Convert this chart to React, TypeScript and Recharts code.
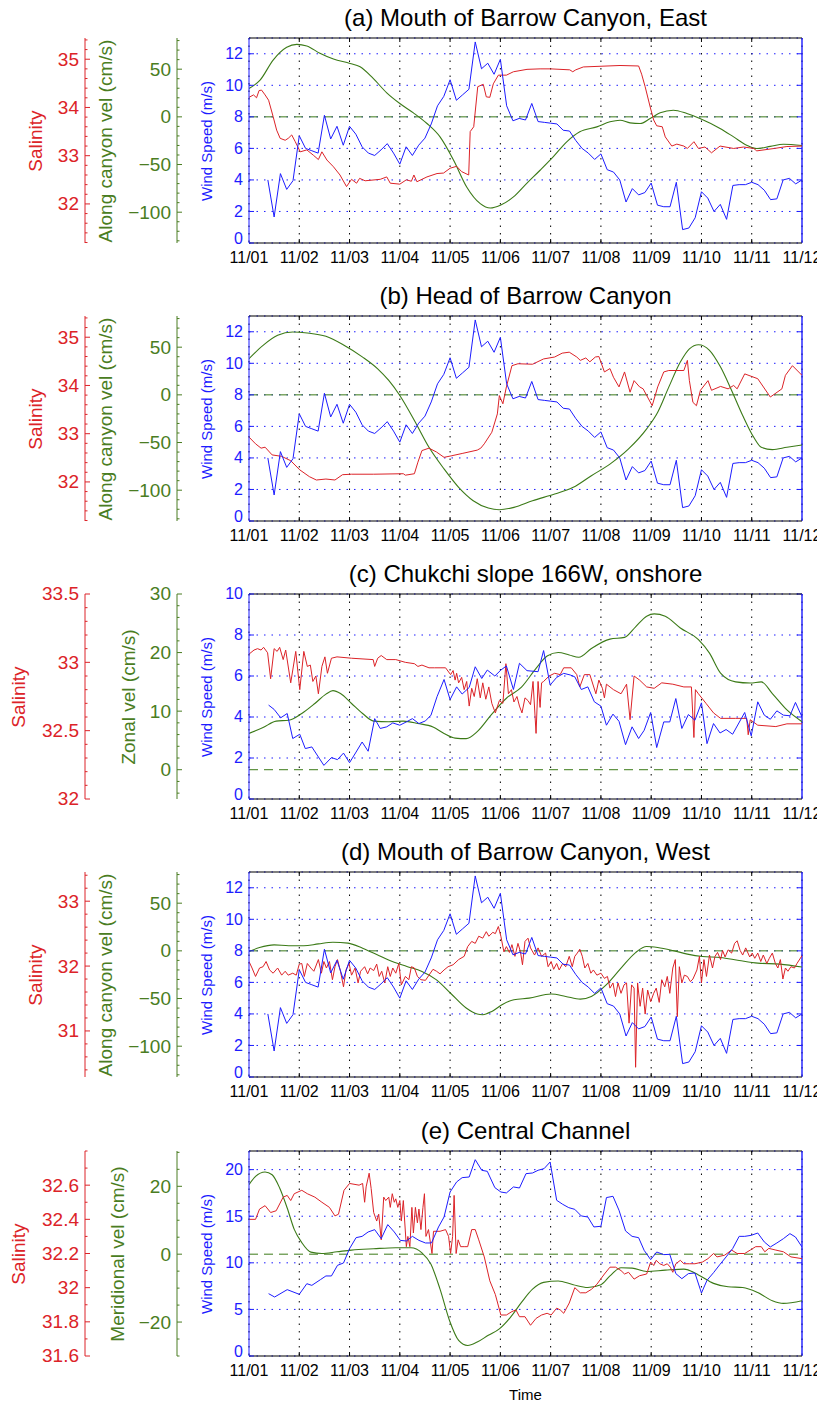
import React from 'react';
import { ComposedChart, Line, XAxis, YAxis, CartesianGrid, ReferenceLine } from 'recharts';

const RED = '#dc2328';
const GREEN = '#3b7a17';
const GREEN_TXT = '#4a7d22';
const BLUE = '#1c1cff';
const FONT = '"Liberation Sans", Arial, Helvetica, sans-serif';

const DATE_TICKS = [1, 2, 3, 4, 5, 6, 7, 8, 9, 10, 11, 12];

// ---- wind speed shared by panels a, b, d (m/s) ----
const WIND_ABD = [[1.375,4.0],[1.5,1.65],[1.625,4.4],[1.75,3.4],[1.875,3.95],[2.0,6.8],[2.125,6.0],[2.25,5.85],[2.375,5.7],[2.5,8.1],[2.625,6.6],[2.75,7.4],[2.875,6.2],[3.0,7.4],[3.125,6.9],[3.25,6.1],[3.375,5.7],[3.5,5.55],[3.625,5.9],[3.75,6.3],[3.875,5.7],[4.0,5.0],[4.125,6.1],[4.25,5.55],[4.375,6.2],[4.5,6.65],[4.625,7.55],[4.75,8.7],[4.875,9.3],[5.0,10.35],[5.125,9.05],[5.25,9.4],[5.375,9.75],[5.5,12.75],[5.625,11.05],[5.75,11.4],[5.875,10.7],[6.0,11.65],[6.125,8.7],[6.25,7.75],[6.375,7.9],[6.5,7.8],[6.625,8.85],[6.75,7.7],[6.875,7.65],[7.0,7.6],[7.125,7.55],[7.25,7.15],[7.375,7.1],[7.5,6.5],[7.625,6.0],[7.75,5.7],[7.875,5.3],[8.0,5.65],[8.125,4.65],[8.25,4.5],[8.375,4.0],[8.5,2.6],[8.625,3.45],[8.75,3.05],[8.875,3.2],[9.0,3.8],[9.125,2.4],[9.25,2.3],[9.375,2.3],[9.5,3.85],[9.625,0.85],[9.75,0.95],[9.875,1.6],[10.0,3.25],[10.125,2.85],[10.25,2.0],[10.375,2.45],[10.5,1.5],[10.625,3.65],[10.75,3.7],[10.875,3.7],[11.0,3.85],[11.125,3.7],[11.25,3.35],[11.375,2.75],[11.5,2.8],[11.625,4.0],[11.75,4.1],[11.875,3.75],[12.0,4.0]];

// ---- (a) Mouth of Barrow Canyon, East ----
const SAL_A = [[1.0,34.21],[1.09,34.26],[1.15,34.2],[1.2,34.35],[1.25,34.36],[1.32,34.26],[1.39,34.15],[1.48,33.81],[1.55,33.53],[1.62,33.36],[1.72,33.32],[1.78,33.36],[1.85,33.43],[1.92,33.29],[2.02,33.08],[2.15,33.12],[2.28,33.01],[2.38,32.92],[2.45,33.08],[2.55,32.91],[2.68,32.77],[2.81,32.6],[2.94,32.36],[3.04,32.51],[3.14,32.43],[3.2,32.53],[3.31,32.48],[3.61,32.51],[3.74,32.56],[3.81,32.43],[4.0,32.41],[4.13,32.5],[4.23,32.47],[4.28,32.6],[4.34,32.46],[4.54,32.56],[4.74,32.63],[4.87,32.64],[5.0,32.74],[5.13,32.78],[5.23,32.67],[5.37,32.6],[5.4,33.5],[5.47,33.6],[5.55,34.43],[5.66,34.48],[5.72,34.22],[5.79,34.21],[5.86,34.49],[5.96,34.67],[6.12,34.67],[6.26,34.74],[6.53,34.79],[6.79,34.8],[7.0,34.8],[7.38,34.78],[7.44,34.74],[7.5,34.78],[7.65,34.84],[8.38,34.87],[8.75,34.86],[8.81,34.69],[8.88,34.43],[8.98,34.01],[9.05,33.74],[9.11,33.62],[9.22,33.6],[9.28,33.39],[9.41,33.2],[9.51,33.24],[9.65,33.2],[9.72,33.15],[9.85,33.29],[9.94,33.15],[10.07,33.18],[10.2,33.06],[10.37,33.2],[10.64,33.15],[10.84,33.18],[11.04,33.15],[11.1,33.1],[11.45,33.15],[11.7,33.19],[12.0,33.2]];
const VEL_A = [[1.0,29.8],[1.22,38.5],[1.48,59.5],[1.75,72.9],[1.95,76],[2.15,74.4],[2.41,66.6],[2.68,60.6],[3.01,56],[3.21,52.5],[3.47,40.3],[3.74,25.2],[4.0,14],[4.27,4.2],[4.54,-7],[4.8,-21],[5.07,-45.5],[5.33,-73.5],[5.6,-91],[5.8,-95.6],[6.0,-92.7],[6.26,-84],[6.52,-70],[6.79,-56],[7.05,-42],[7.32,-26.2],[7.58,-15.7],[7.92,-10.5],[8.18,-5.2],[8.38,-3.5],[8.58,-6.3],[8.78,-7],[8.98,-1.7],[9.18,4.2],[9.44,7],[9.71,3.5],[9.97,-1.7],[10.37,-12.2],[10.64,-21],[10.9,-29.7],[11.1,-33.2],[11.37,-31],[11.63,-28.7],[12.0,-30]];

// ---- (b) Head of Barrow Canyon ----
const SAL_B = [[1.0,32.93],[1.13,32.79],[1.24,32.7],[1.32,32.72],[1.46,32.56],[1.65,32.53],[1.83,32.44],[2.01,32.25],[2.2,32.11],[2.34,32.04],[2.53,32.06],[2.71,32.04],[2.86,32.15],[3.04,32.16],[3.48,32.16],[4.07,32.17],[4.11,32.14],[4.29,32.17],[4.36,32.41],[4.44,32.65],[4.58,32.7],[4.73,32.62],[4.88,32.51],[5.02,32.54],[5.24,32.59],[5.54,32.66],[5.61,32.7],[5.68,32.79],[5.83,33.03],[5.94,33.41],[5.98,33.79],[6.05,33.62],[6.12,33.97],[6.23,34.41],[6.35,34.45],[6.64,34.44],[6.86,34.55],[7.08,34.59],[7.23,34.67],[7.37,34.69],[7.52,34.59],[7.59,34.52],[7.7,34.57],[7.78,34.49],[7.89,34.59],[7.96,34.6],[8.07,34.28],[8.18,34.35],[8.25,34.17],[8.36,33.97],[8.47,34.28],[8.58,33.86],[8.66,34.1],[8.77,33.97],[8.84,33.93],[9.02,33.58],[9.13,33.97],[9.25,34.28],[9.35,34.31],[9.65,34.31],[9.72,34.52],[9.76,34.1],[9.83,33.65],[9.9,33.58],[9.98,33.9],[10.13,34.1],[10.2,33.9],[10.38,33.98],[10.53,33.93],[10.64,34.0],[10.71,33.93],[10.86,34.24],[11.12,34.14],[11.37,33.76],[11.6,33.93],[11.67,34.21],[11.81,34.41],[12.0,34.21]];
const VEL_B = [[1.0,37.9],[1.28,51.9],[1.57,62.4],[1.87,65.9],[2.16,64.9],[2.53,61.4],[2.89,52],[3.26,39.6],[3.56,27.3],[3.78,15.1],[4.0,-0.7],[4.29,-26.9],[4.58,-55],[4.88,-77.7],[5.17,-97],[5.46,-111],[5.76,-118.7],[5.98,-120.5],[6.27,-118],[6.64,-111],[7.08,-104],[7.45,-97],[7.81,-84.8],[8.18,-72.6],[8.55,-56.7],[8.91,-35.7],[9.13,-18.2],[9.35,8.1],[9.58,34.4],[9.76,48.3],[9.94,52.6],[10.16,46.7],[10.38,29.1],[10.6,4.6],[10.82,-21.6],[11.04,-44.5],[11.19,-55],[11.41,-57.4],[11.7,-55],[12.0,-52.6]];

// ---- (c) Chukchi slope 166W, onshore ----
const WIND_C = [[1.39,4.58],[1.5,4.37],[1.63,3.96],[1.76,4.17],[1.87,2.95],[2.01,3.16],[2.12,2.46],[2.25,2.54],[2.38,2.05],[2.49,1.64],[2.64,2.02],[2.76,1.92],[2.88,2.24],[3.0,1.77],[3.13,2.29],[3.25,2.78],[3.37,2.33],[3.5,3.92],[3.61,3.44],[3.74,3.52],[3.86,3.71],[4.0,3.6],[4.13,3.76],[4.25,3.92],[4.38,3.68],[4.51,3.81],[4.62,4.09],[4.74,4.99],[4.88,5.83],[5.0,4.85],[5.13,5.47],[5.24,5.12],[5.38,5.44],[5.5,6.45],[5.63,5.88],[5.74,6.29],[5.89,6.0],[6.01,6.29],[6.12,6.49],[6.26,5.34],[6.38,6.62],[6.53,6.26],[6.75,6.21],[6.86,7.24],[6.99,5.56],[7.12,5.93],[7.26,6.13],[7.39,6.05],[7.48,5.96],[7.61,5.34],[7.74,5.47],[7.87,4.74],[8.0,4.53],[8.11,3.6],[8.24,4.14],[8.36,3.79],[8.49,2.65],[8.62,3.52],[8.75,2.95],[8.86,3.35],[8.99,4.22],[9.11,2.51],[9.25,3.76],[9.37,3.76],[9.49,4.9],[9.61,3.44],[9.74,4.12],[9.87,3.84],[10.0,4.69],[10.11,2.7],[10.24,3.68],[10.37,3.22],[10.49,3.39],[10.62,3.16],[10.86,4.22],[10.99,3.08],[11.12,4.74],[11.25,4.09],[11.37,3.89],[11.5,4.3],[11.63,4.09],[11.76,4.06],[11.87,4.71],[12.0,4.0]];
const SAL_C = [[1.0,33.06],[1.1,33.09],[1.17,33.1],[1.24,33.09],[1.29,33.11],[1.37,33.07],[1.43,32.88],[1.5,33.1],[1.56,33.08],[1.61,33.11],[1.68,33.02],[1.73,33.09],[1.83,32.85],[1.93,33.08],[2.01,32.8],[2.09,33.08],[2.16,32.97],[2.22,32.98],[2.27,32.86],[2.33,32.9],[2.38,32.77],[2.45,32.97],[2.51,33.04],[2.56,32.92],[2.64,33.03],[2.75,33.04],[3.04,33.03],[3.47,33.02],[3.5,32.97],[3.56,33.03],[3.63,33.05],[3.74,33.02],[3.92,33.02],[4.11,33.0],[4.29,32.99],[4.36,32.97],[4.44,32.98],[4.58,32.96],[4.69,32.96],[4.8,32.96],[4.91,32.96],[5.01,32.91],[5.06,32.94],[5.1,32.87],[5.13,32.92],[5.17,32.85],[5.23,32.89],[5.28,32.8],[5.33,32.86],[5.38,32.68],[5.43,32.81],[5.48,32.75],[5.54,32.88],[5.6,32.74],[5.65,32.85],[5.71,32.73],[5.77,32.82],[5.83,32.7],[5.9,32.63],[5.98,32.72],[6.05,32.7],[6.11,32.99],[6.16,32.77],[6.22,32.8],[6.27,32.71],[6.33,32.75],[6.38,32.68],[6.43,32.63],[6.49,32.74],[6.55,32.72],[6.6,32.69],[6.65,32.86],[6.71,32.48],[6.75,32.86],[6.79,32.67],[6.82,32.85],[6.86,32.86],[6.97,32.9],[7.08,32.92],[7.19,32.91],[7.26,32.96],[7.41,32.96],[7.52,32.91],[7.58,32.82],[7.67,32.91],[7.78,32.91],[7.9,32.77],[7.96,32.87],[8.03,32.81],[8.07,32.74],[8.11,32.84],[8.25,32.8],[8.4,32.77],[8.51,32.84],[8.58,32.58],[8.66,32.9],[8.77,32.87],[8.91,32.82],[9.06,32.81],[9.21,32.85],[9.43,32.84],[9.65,32.82],[9.8,32.82],[9.85,32.45],[9.88,32.8],[9.94,32.77],[10.09,32.7],[10.24,32.63],[10.38,32.59],[10.68,32.59],[10.9,32.59],[10.93,32.47],[10.97,32.58],[11.12,32.54],[11.48,32.53],[11.7,32.55],[12.0,32.55]];
const VEL_C = [[1.0,6.2],[1.28,7.2],[1.54,8.3],[1.79,8.45],[2.05,9.6],[2.31,11.3],[2.53,12.9],[2.67,13.5],[2.82,13.0],[3.04,11.3],[3.26,9.6],[3.48,8.3],[3.78,8.2],[4.07,8.3],[4.36,7.9],[4.66,7.3],[4.88,6.2],[5.1,5.4],[5.32,5.3],[5.54,6.5],[5.83,9.5],[6.12,12.2],[6.42,14.1],[6.71,17.3],[6.93,19.4],[7.15,20.0],[7.37,19.6],[7.56,19.2],[7.81,20.7],[8.18,22.3],[8.47,22.6],[8.69,24.4],[8.91,26.2],[9.06,26.6],[9.28,26.2],[9.58,24.2],[9.94,22.2],[10.16,19.9],[10.38,16.5],[10.68,15.0],[10.97,14.8],[11.19,15.0],[11.41,13.0],[11.7,10.2],[12.0,8.2]];

// ---- (d) Mouth of Barrow Canyon, West ----
const SAL_D = [[1.0,32.07],[1.06,31.97],[1.13,31.84],[1.21,31.97],[1.28,31.99],[1.34,32.07],[1.41,31.94],[1.48,31.89],[1.57,31.97],[1.65,31.86],[1.72,31.92],[1.78,31.86],[1.87,31.89],[1.94,31.86],[2.0,32.03],[2.05,32.04],[2.1,31.84],[2.16,32.04],[2.23,31.97],[2.29,31.92],[2.38,32.1],[2.44,31.89],[2.49,32.07],[2.54,31.97],[2.6,32.07],[2.66,31.79],[2.71,31.99],[2.76,32.1],[2.82,31.92],[2.88,31.68],[2.93,31.94],[2.99,32.04],[3.04,31.86],[3.11,31.97],[3.17,31.74],[3.22,31.92],[3.3,31.99],[3.36,31.88],[3.41,31.97],[3.48,31.93],[3.54,32.03],[3.59,31.84],[3.64,31.92],[3.7,31.74],[3.76,31.99],[3.81,31.84],[3.86,31.97],[3.92,31.89],[3.98,32.04],[4.03,31.71],[4.11,31.84],[4.18,31.79],[4.23,31.99],[4.29,31.97],[4.35,31.84],[4.42,31.79],[4.51,31.78],[4.58,31.86],[4.66,31.95],[4.73,31.92],[4.8,31.88],[4.88,31.94],[4.96,31.99],[5.06,32.02],[5.17,32.1],[5.28,32.15],[5.35,32.3],[5.43,32.38],[5.5,32.35],[5.57,32.46],[5.65,32.43],[5.72,32.53],[5.77,32.46],[5.85,32.52],[5.9,32.5],[5.96,32.61],[6.01,32.46],[6.07,32.22],[6.12,32.3],[6.18,32.21],[6.23,32.33],[6.29,32.15],[6.35,32.35],[6.4,32.22],[6.44,32.02],[6.49,32.38],[6.55,32.43],[6.6,32.28],[6.68,32.17],[6.75,32.28],[6.82,32.15],[6.9,32.2],[6.95,31.99],[7.01,32.07],[7.06,31.95],[7.12,32.04],[7.17,31.94],[7.24,32.04],[7.3,31.99],[7.37,32.15],[7.43,31.99],[7.48,32.15],[7.53,32.2],[7.58,32.26],[7.63,32.15],[7.68,31.97],[7.74,32.04],[7.8,31.89],[7.85,31.94],[7.92,31.86],[8.0,31.89],[8.07,31.81],[8.13,31.84],[8.18,31.66],[8.24,31.74],[8.29,31.53],[8.34,31.74],[8.4,31.58],[8.46,31.71],[8.51,31.74],[8.56,31.12],[8.61,31.71],[8.66,31.66],[8.69,30.44],[8.73,31.74],[8.78,31.38],[8.83,31.66],[8.88,31.26],[8.93,31.63],[8.99,31.45],[9.05,31.58],[9.1,31.66],[9.16,31.44],[9.21,31.79],[9.27,31.68],[9.32,31.84],[9.37,31.58],[9.43,31.97],[9.48,32.1],[9.52,31.22],[9.56,31.99],[9.61,31.74],[9.66,31.86],[9.72,31.84],[9.78,31.76],[9.83,31.8],[9.91,31.94],[9.96,32.15],[10.0,31.74],[10.05,32.1],[10.1,31.84],[10.16,32.17],[10.22,31.97],[10.27,32.15],[10.32,32.21],[10.38,32.1],[10.42,32.24],[10.47,32.14],[10.53,32.25],[10.6,32.2],[10.66,32.35],[10.71,32.39],[10.77,32.24],[10.82,32.17],[10.88,32.28],[10.96,32.14],[11.01,32.2],[11.06,32.12],[11.12,32.2],[11.18,32.07],[11.23,32.17],[11.3,32.04],[11.35,32.12],[11.41,32.2],[11.47,32.04],[11.52,31.97],[11.57,32.1],[11.62,31.8],[11.67,31.97],[11.72,31.92],[11.78,31.99],[11.85,31.97],[11.9,32.04],[12.0,32.16]];
const VEL_D = [[1.0,-0.7],[1.21,3.5],[1.5,6.3],[1.79,5.3],[2.09,5.3],[2.38,7.3],[2.67,9.1],[2.97,8.1],[3.26,2.8],[3.55,-4.1],[3.85,-11.2],[4.14,-16.4],[4.44,-21.6],[4.73,-30.4],[5.02,-45],[5.32,-60],[5.54,-66.3],[5.65,-67],[5.83,-63.5],[6.05,-55.9],[6.27,-51.3],[6.57,-49.6],[7.01,-45.3],[7.3,-47.8],[7.59,-50.6],[7.81,-47.8],[8.11,-35.5],[8.4,-18.2],[8.69,-1.8],[8.91,4.5],[9.13,3.5],[9.43,0.4],[9.72,-3.4],[10.02,-5.9],[10.38,-6.9],[10.75,-10.1],[11.12,-12.9],[11.56,-13.9],[12.0,-17]];

// ---- (e) Central Channel ----
const WIND_E = [[1.39,6.69],[1.51,6.33],[1.76,7.12],[2.0,6.62],[2.15,7.76],[2.25,7.58],[2.42,8.19],[2.53,8.59],[2.64,8.59],[2.76,9.73],[2.88,9.98],[3.0,11.52],[3.13,12.7],[3.25,12.84],[3.37,13.31],[3.5,13.56],[3.63,12.59],[3.76,14.1],[3.89,13.31],[4.01,12.41],[4.13,12.34],[4.25,12.84],[4.38,12.41],[4.51,12.13],[4.63,12.13],[4.77,13.85],[4.88,14.92],[5.0,17.6],[5.13,18.68],[5.24,19.14],[5.38,19.21],[5.5,21.07],[5.63,19.93],[5.74,19.82],[5.89,18.07],[6.01,17.6],[6.12,17.5],[6.26,18.14],[6.38,18.03],[6.51,19.57],[6.64,19.64],[6.75,19.93],[6.87,20.11],[6.99,20.82],[7.12,16.71],[7.24,16.28],[7.36,15.92],[7.48,15.74],[7.61,15.03],[7.74,14.92],[7.86,13.85],[8.0,13.92],[8.11,17.0],[8.24,17.14],[8.36,15.64],[8.49,13.42],[8.62,12.84],[8.75,12.7],[8.86,11.34],[8.99,10.34],[9.11,11.16],[9.25,10.88],[9.37,10.91],[9.49,8.84],[9.61,8.3],[9.74,8.84],[9.87,8.91],[10.0,6.76],[10.11,8.12],[10.24,8.94],[10.37,9.84],[10.49,10.63],[10.62,11.52],[10.75,12.84],[10.86,12.84],[10.99,12.95],[11.12,13.2],[11.25,12.24],[11.37,11.7],[11.5,12.13],[11.63,12.59],[11.76,13.13],[11.87,12.77],[12.0,11.7]];
const SAL_E = [[1.0,32.4],[1.13,32.4],[1.21,32.46],[1.32,32.48],[1.43,32.44],[1.54,32.45],[1.68,32.53],[1.76,32.54],[1.83,32.51],[1.9,32.55],[2.05,32.57],[2.16,32.55],[2.31,32.53],[2.45,32.5],[2.6,32.47],[2.71,32.42],[2.78,32.43],[2.89,32.57],[3.0,32.61],[3.19,32.6],[3.26,32.61],[3.3,32.5],[3.33,32.59],[3.39,32.67],[3.43,32.58],[3.48,32.44],[3.54,32.39],[3.58,32.43],[3.63,32.28],[3.68,32.53],[3.72,32.51],[3.78,32.53],[3.81,32.47],[3.85,32.55],[3.89,32.5],[3.92,32.52],[3.96,32.47],[4.0,32.51],[4.03,32.39],[4.07,32.51],[4.09,32.42],[4.13,32.24],[4.16,32.3],[4.2,32.24],[4.24,32.47],[4.27,32.32],[4.31,32.47],[4.35,32.38],[4.38,32.46],[4.42,32.34],[4.46,32.47],[4.49,32.55],[4.52,32.3],[4.57,32.34],[4.61,32.26],[4.64,32.2],[4.67,32.33],[4.73,32.33],[4.8,32.33],[4.91,32.34],[4.97,32.3],[5.01,32.2],[5.05,32.3],[5.08,32.54],[5.12,32.2],[5.16,32.28],[5.21,32.24],[5.28,32.24],[5.35,32.24],[5.43,32.34],[5.5,32.34],[5.57,32.28],[5.68,32.18],[5.79,32.04],[5.9,31.96],[6.01,31.84],[6.12,31.84],[6.23,31.86],[6.31,31.87],[6.38,31.83],[6.49,31.83],[6.6,31.78],[6.71,31.82],[6.82,31.84],[6.93,31.85],[7.01,31.84],[7.12,31.88],[7.19,31.87],[7.26,31.85],[7.37,31.91],[7.48,32.0],[7.59,31.97],[7.7,31.97],[7.81,31.99],[7.92,32.02],[8.07,32.08],[8.18,32.12],[8.29,32.12],[8.4,32.1],[8.47,32.08],[8.55,32.09],[8.66,32.05],[8.77,32.07],[8.91,32.08],[8.99,32.15],[9.05,32.13],[9.1,32.16],[9.17,32.14],[9.25,32.13],[9.32,32.14],[9.38,32.12],[9.43,32.09],[9.49,32.14],[9.58,32.16],[9.65,32.14],[9.76,32.14],[9.87,32.14],[10.02,32.15],[10.13,32.17],[10.24,32.2],[10.31,32.18],[10.46,32.19],[10.6,32.22],[10.71,32.2],[10.86,32.2],[10.97,32.22],[11.08,32.24],[11.19,32.24],[11.26,32.21],[11.34,32.23],[11.48,32.22],[11.63,32.21],[11.78,32.18],[12.0,32.17]];
const VEL_E = [[1.0,20.5],[1.13,22.9],[1.32,24.2],[1.46,23.4],[1.61,19.5],[1.76,13.6],[1.9,7.3],[2.05,3.4],[2.23,0.6],[2.45,0.2],[2.75,0.7],[3.04,1.2],[3.48,1.6],[3.92,1.9],[4.22,1.9],[4.44,0.4],[4.62,-3.0],[4.8,-10.3],[4.99,-19.6],[5.17,-25.4],[5.35,-26.9],[5.54,-25.9],[5.76,-23.9],[5.98,-22.0],[6.2,-18.6],[6.42,-14.2],[6.64,-10.3],[6.86,-8.3],[7.15,-7.9],[7.45,-9.0],[7.74,-9.8],[8.0,-9.0],[8.18,-6.4],[8.4,-4.0],[8.62,-4.1],[8.91,-5.1],[9.28,-4.7],[9.65,-4.4],[9.94,-6.1],[10.24,-8.6],[10.53,-9.6],[10.82,-9.8],[11.12,-11.3],[11.41,-13.7],[11.63,-14.5],[12.0,-13.7]];

// ---- tick labels ----
const WIND_TICKS_13 = [0, 2, 4, 6, 8, 10, 12];
const WIND_TICKS_10 = [0, 2, 4, 6, 8, 10];
const WIND_TICKS_22 = [0, 5, 10, 15, 20];
const SAL_TICKS_AB = [32, 33, 34, 35];
const SAL_TICKS_C = [32, 32.5, 33, 33.5];
const SAL_TICKS_D = [31, 32, 33];
const SAL_TICKS_E = [31.6, 31.8, 32, 32.2, 32.4, 32.6];
const VEL_TICKS_ABD = [-100, -50, 0, 50];
const VEL_TICKS_C = [0, 10, 20, 30];
const VEL_TICKS_E = [-20, 0, 20];

const steps = (a: number, b: number, s: number) => {
  const out: number[] = [];
  const n = Math.round((b - a) / s);
  for (let i = 0; i <= n; i++) out.push(Math.round((a + i * s) * 1000) / 1000);
  return out;
};

const pts = (a: number[][]) => a.map(([t, v]) => ({ t, v }));
const fmtNum = (v: number) => (v < 0 ? '\u2212' + String(Math.abs(v)) : String(v));
const fmtDate = (d: number) => '11/' + String(d).padStart(2, '0');

type Cfg = {
  title: string;
  top: number;
  wind: number[][];
  sal: number[][];
  vel: number[][];
  windDomain: [number, number];
  windTicks: number[];
  salDomain: [number, number];
  salMajor: number[];
  salAll: number[];
  velDomain: [number, number];
  velMajor: number[];
  velAll: number[];
  velLabel: string;
  salLabelX: number;
  velLabelX: number;
  showTime?: boolean;
};

const PANELS: Cfg[] = [
  {
    title: '(a) Mouth of Barrow Canyon, East', top: 38,
    wind: WIND_ABD, sal: SAL_A, vel: VEL_A,
    windDomain: [0, 13], windTicks: WIND_TICKS_13,
    salDomain: [31.19, 35.44], salMajor: SAL_TICKS_AB, salAll: steps(31.2, 35.4, 0.2),
    velDomain: [-132.3, 82.7], velMajor: VEL_TICKS_ABD, velAll: steps(-130, 80, 10),
    velLabel: 'Along canyon vel (cm/s)', salLabelX: 35, velLabelX: 105,
  },
  {
    title: '(b) Head of Barrow Canyon', top: 316,
    wind: WIND_ABD, sal: SAL_B, vel: VEL_B,
    windDomain: [0, 13], windTicks: WIND_TICKS_13,
    salDomain: [31.19, 35.44], salMajor: SAL_TICKS_AB, salAll: steps(31.2, 35.4, 0.2),
    velDomain: [-132.3, 82.7], velMajor: VEL_TICKS_ABD, velAll: steps(-130, 80, 10),
    velLabel: 'Along canyon vel (cm/s)', salLabelX: 35, velLabelX: 105,
  },
  {
    title: '(c) Chukchi slope 166W, onshore', top: 594,
    wind: WIND_C, sal: SAL_C, vel: VEL_C,
    windDomain: [0, 10], windTicks: WIND_TICKS_10,
    salDomain: [32, 33.5], salMajor: SAL_TICKS_C, salAll: steps(32, 33.5, 0.1),
    velDomain: [-5, 30], velMajor: VEL_TICKS_C, velAll: steps(-4, 30, 2),
    velLabel: 'Zonal vel (cm/s)', salLabelX: 18, velLabelX: 128,
  },
  {
    title: '(d) Mouth of Barrow Canyon, West', top: 872,
    wind: WIND_ABD, sal: SAL_D, vel: VEL_D,
    windDomain: [0, 13], windTicks: WIND_TICKS_13,
    salDomain: [30.29, 33.45], salMajor: SAL_TICKS_D, salAll: steps(30.4, 33.4, 0.2),
    velDomain: [-132.3, 82.7], velMajor: VEL_TICKS_ABD, velAll: steps(-130, 80, 10),
    velLabel: 'Along canyon vel (cm/s)', salLabelX: 35, velLabelX: 105,
  },
  {
    title: '(e) Central Channel', top: 1151,
    wind: WIND_E, sal: SAL_E, vel: VEL_E,
    windDomain: [0, 22], windTicks: WIND_TICKS_22,
    salDomain: [31.6, 32.8], salMajor: SAL_TICKS_E, salAll: steps(31.6, 32.8, 0.1),
    velDomain: [-30, 30.4], velMajor: VEL_TICKS_E, velAll: steps(-30, 30, 5),
    velLabel: 'Meridional vel (cm/s)', salLabelX: 18, velLabelX: 117, showTime: true,
  },
];

// axis ids are ordered so that the wind axis sits next to the plot
const ID_WIND = 'a_wind';
const ID_VEL = 'b_vel';
const ID_SAL = 'c_sal';

const GAP = 4;
const makeTick = (majors: number[], color: string, fontSize: number, liftZero = 0) => (props: any) => {
  const { x, y, payload } = props;
  const v = payload.value as number;
  const isMajor = majors.some((m) => Math.abs(m - v) < 1e-6);
  const lx = x + GAP;
  const ty = v === 0 ? y - liftZero : y;
  return (
    <g>
      <line x1={lx} x2={lx + (isMajor ? 5 : 2.5)} y1={y} y2={y} stroke={color} strokeWidth={1} />
      {isMajor && (
        <text x={x - 2} y={ty} dy="0.34em" textAnchor="end" fill={color} fontSize={fontSize} fontFamily={FONT}>
          {fmtNum(v)}
        </text>
      )}
    </g>
  );
};

const PLOT_H = 205;
const PLOT_W = 553;
const MT = 10;
const CHART_W = 817;
const INNER_TICK_DATES = [2, 3, 4, 5, 6, 7, 8, 9, 10, 11];

function Panel({ cfg }: { cfg: Cfg }) {
  const xh = cfg.showTime ? 46 : 28;
  const h = MT + PLOT_H + xh;
  const midY = cfg.top - 8 + PLOT_H / 2;
  const wMax = cfg.windDomain[1];
  const tickY = (4 / PLOT_H) * wMax;
  const tickX = (5 / PLOT_W) * 11;
  const rotLabel = (text: string, cx: number, color: string, size: number) => (
    <div
      style={{
        position: 'absolute', left: cx - 8, top: midY, transform: 'translate(-50%, -50%) rotate(-90deg)',
        whiteSpace: 'nowrap', color, fontSize: size, fontFamily: FONT, lineHeight: 1,
      }}
    >
      {text}
    </div>
  );
  return (
    <>
      <div
        style={{
          position: 'absolute', left: 517.5, top: cfg.top - 8 - 34, transform: 'translateX(-50%)',
          whiteSpace: 'nowrap', fontSize: 24, fontFamily: FONT, color: '#000', lineHeight: '28px',
        }}
      >
        {cfg.title}
      </div>
      {rotLabel('Salinity', cfg.salLabelX, RED, 19)}
      {rotLabel(cfg.velLabel, cfg.velLabelX, GREEN_TXT, 19)}
      {rotLabel('Wind Speed (m/s)', 206, BLUE, 15)}
      <div style={{ position: 'absolute', left: 0, top: cfg.top - 8 - MT, width: CHART_W, height: h }}>
        <ComposedChart width={CHART_W} height={h} margin={{ top: MT, right: 23, bottom: 0, left: 0 }} style={{ fontFamily: FONT }}>
          <CartesianGrid yAxisId={ID_WIND} horizontal={false} stroke="#000" strokeDasharray="1.5 6" />
          <CartesianGrid yAxisId={ID_WIND} vertical={false} stroke={BLUE} strokeDasharray="1.5 6" />
          <XAxis
            dataKey="t" type="number" domain={[1, 12]} ticks={DATE_TICKS} allowDataOverflow interval={0}
            tickFormatter={fmtDate} tickSize={0} tickMargin={9} height={xh} stroke="#000"
            tick={{ fill: '#000', fontSize: 16, fontFamily: FONT }}
            label={cfg.showTime ? { value: 'Time', position: 'insideBottom', offset: 2, fill: '#000', fontSize: 15, fontFamily: FONT } : undefined}
          />
          <YAxis
            yAxisId={ID_WIND} orientation="left" width={72} type="number" domain={cfg.windDomain} allowDataOverflow
            ticks={cfg.windTicks} interval={0} stroke={BLUE} tickSize={0} tickMargin={GAP} tickLine={false}
            tick={makeTick(cfg.windTicks, BLUE, 16, 4)}
          />
          <YAxis
            yAxisId={ID_VEL} orientation="left" width={92} type="number" domain={cfg.velDomain} allowDataOverflow
            ticks={cfg.velAll} interval={0} stroke={GREEN_TXT} tickSize={0} tickMargin={GAP} tickLine={false}
            tick={makeTick(cfg.velMajor, GREEN_TXT, 19)}
          />
          <YAxis
            yAxisId={ID_SAL} orientation="left" width={77} type="number" domain={cfg.salDomain} allowDataOverflow
            ticks={cfg.salAll} interval={0} stroke={RED} tickSize={0} tickMargin={GAP} tickLine={false}
            tick={makeTick(cfg.salMajor, RED, 19)}
          />
          <ReferenceLine yAxisId={ID_VEL} y={0} stroke={GREEN} strokeDasharray="9 6" strokeWidth={1} />
          {INNER_TICK_DATES.map((d) => (
            <ReferenceLine key={'tt' + d} yAxisId={ID_WIND} segment={[{ x: d, y: wMax }, { x: d, y: wMax - tickY }]} stroke="#000" />
          ))}
          {INNER_TICK_DATES.map((d) => (
            <ReferenceLine key={'tb' + d} yAxisId={ID_WIND} segment={[{ x: d, y: 0 }, { x: d, y: tickY }]} stroke="#000" />
          ))}
          {cfg.windTicks.filter((w) => w > 0).map((w) => (
            <ReferenceLine key={'tr' + w} yAxisId={ID_WIND} segment={[{ x: 12, y: w }, { x: 12 - tickX, y: w }]} stroke={BLUE} />
          ))}
          <ReferenceLine yAxisId={ID_WIND} y={wMax} stroke="#000" strokeWidth={1.2} />
          <ReferenceLine yAxisId={ID_WIND} x={12} stroke={BLUE} strokeWidth={1.4} />
          <Line yAxisId={ID_VEL} data={pts(cfg.vel)} dataKey="v" type="monotone" stroke={GREEN} strokeWidth={1.1} dot={false} isAnimationActive={false} />
          <Line yAxisId={ID_SAL} data={pts(cfg.sal)} dataKey="v" type="linear" stroke={RED} strokeWidth={1} dot={false} isAnimationActive={false} />
          <Line yAxisId={ID_WIND} data={pts(cfg.wind)} dataKey="v" type="linear" stroke={BLUE} strokeWidth={1} dot={false} isAnimationActive={false} />
        </ComposedChart>
      </div>
    </>
  );
}

export default function App() {
  return (
    <div style={{ position: 'relative', width: CHART_W, height: 1394, fontFamily: FONT, background: '#fff' }}>
      {PANELS.map((p) => (
        <Panel key={p.title} cfg={p} />
      ))}
    </div>
  );
}
